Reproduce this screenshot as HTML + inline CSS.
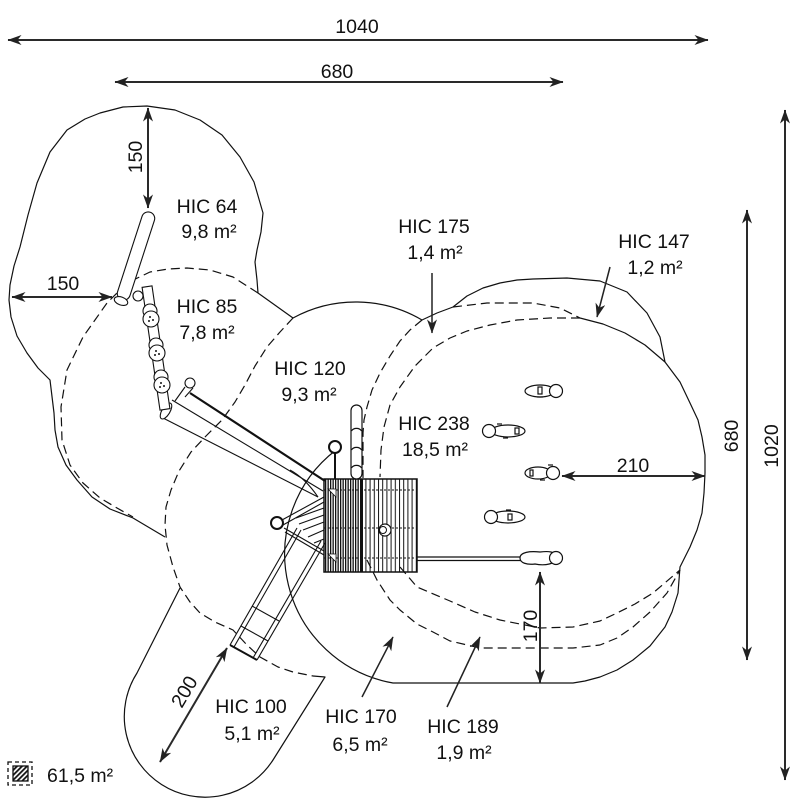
<!DOCTYPE html>
<html><head><meta charset="utf-8"><style>
html,body{margin:0;padding:0;background:#fff;}
svg{display:block;}
text{font-family:"Liberation Sans",sans-serif;font-size:19.5px;fill:#111;}
</style></head><body>
<svg width="800" height="800" viewBox="0 0 800 800" xmlns="http://www.w3.org/2000/svg">
<defs>
<marker id="ah" viewBox="0 0 14 10" refX="13.5" refY="5" markerWidth="14" markerHeight="10" markerUnits="userSpaceOnUse" orient="auto-start-reverse"><path d="M0,0 L14,5 L0,10 L4,5 z" fill="#222"/></marker>
<pattern id="pL" width="2.5" height="10" patternUnits="userSpaceOnUse"><rect x="0" y="0" width="1.3" height="10" fill="#111"/></pattern>
<pattern id="pR" width="4.2" height="10" patternUnits="userSpaceOnUse"><rect x="0" y="0" width="1" height="10" fill="#111"/></pattern>
<pattern id="hat" width="3.5" height="3.5" patternUnits="userSpaceOnUse" patternTransform="rotate(45)"><rect x="0" y="0" width="1.8" height="3.5" fill="#111"/></pattern>
</defs>
<rect width="800" height="800" fill="#fff"/>

<!-- solid outlines -->
<g fill="none" stroke="#111" stroke-width="1.2" stroke-linejoin="round">
<path d="M165,537 L133,518 L110,509 L92,497 L77,480 L66,465 L58,447 L55,430 L54,413 L50,380 L38,368 L27,353 L17,336 L11,317 L9,300 L10,285 L14,266 L20,247 L28,215 L37,183 L50,152 L67,130 L85,119 L100,113 L123,107 L147,106 L175,110 L200,120 L222,135 L240,157 L254,182 L263,213 L261,232 L257,250 L255,262 L257,280 L258,293 L293,318 A131,131 0 0 1 422,320 L437,313 L453,307 L467,296 L483,288 L500,283 L517,280 L533,279 L567,278 L600,281 L627,292 L647,313 L660,337 L665,362"/>
<path d="M580,318 L603,324 L625,333 L645,345 L665,362 L680,382 L690,403 L698,420 L702,437 L705,455 L705,473 L704,493 L702,513 L697,530 L690,547 L680,567 L678,593 L672,612 L665,627 L650,646 L633,660 L617,670 L600,677 L585,681 L573,683 L393,683 A131,131 0 0 1 336,450"/>
<path d="M180,588 L137,673 A80,80 0 0 0 273,760 L325,677 L313,676"/>
</g>

<!-- dashed outlines -->
<g fill="none" stroke="#111" stroke-width="1.2" stroke-dasharray="9 5" stroke-linejoin="round">
<path d="M258,293 L233,277 L210,270 L187,268 L168,269 L150,272 L127,283 L107,303 L83,337 L67,370 L61,407 L62,440 L70,465 L83,483 L100,498 L117,508 L133,517"/>
<path d="M293,318 L280,332 L267,347 L255,366 L245,385 L235,402 L222,420 L206,436 L191,452 L179,471 L171,490 L166,507 L165,525 L167,545 L173,567 L180,587 L190,602 L200,613 L215,622 L233,630 L247,645 L260,657 L278,667 L293,672 L313,676"/>
<path d="M422,320 L410,330 L400,341 L390,356 L380,373 L372,390 L367,407 L364,420 L363,433 L363,455 L363,478"/>
<path d="M580,318 L550,318 L517,320 L490,325 L467,331 L450,338 L433,348 L415,366 L400,387 L390,405 L384,427 L381,450 L380,477"/>
<path d="M453,307 L487,303 L533,303 L560,308 L580,318"/>
<path d="M400,567 L417,587 L450,601 L475,612 L500,620 L540,628 L573,627 L600,621 L617,613 L635,604 L653,593 L680,570"/>
<path d="M367,560 L377,580 L390,600 L400,610 L417,624 L433,632 L450,641 L480,648 L520,648 L573,648 L600,645 L617,638 L633,627 L650,612 L667,593 L680,570"/>
</g>

<!-- equipment -->
<g fill="none" stroke="#111" stroke-width="1.1">
<line x1="190" y1="393" x2="325" y2="481" stroke-width="2.2"/>
<line x1="172" y1="400" x2="323" y2="491"/>
<line x1="163" y1="418" x2="318" y2="497"/>
<path d="M290,470 Q305,478 318,497"/>
<ellipse cx="166" cy="411" rx="4" ry="9" transform="rotate(31 166 411)" fill="#fff"/>
<circle cx="190" cy="383" r="5" fill="#fff"/>
<line x1="185" y1="387" x2="175" y2="401"/>
<line x1="193" y1="388" x2="185" y2="397"/>

<rect x="129.5" y="210" width="13" height="92" rx="6.5" transform="rotate(18 136 256)" fill="#fff"/>
<ellipse cx="121" cy="301" rx="7" ry="4" transform="rotate(20 121 301)" fill="#fff"/>
<circle cx="138" cy="296" r="5" fill="#fff"/>
<rect x="151" y="286" width="10" height="124" transform="rotate(-8.3 156 348)" fill="#fff"/>
<circle cx="150" cy="311" r="7" fill="#fff"/>
<circle cx="156" cy="345" r="7" fill="#fff"/>
<circle cx="161" cy="377" r="7" fill="#fff"/>
<circle cx="151" cy="319" r="8" fill="#fff"/>
<circle cx="157" cy="353" r="8" fill="#fff"/>
<circle cx="162" cy="385" r="8" fill="#fff"/>
</g>
<g fill="#111">
<circle cx="150" cy="317" r="1"/><circle cx="153" cy="320" r="1"/><circle cx="149" cy="321" r="1"/>
<circle cx="156" cy="351" r="1"/><circle cx="159" cy="354" r="1"/><circle cx="155" cy="355" r="1"/>
<circle cx="161" cy="383" r="1"/><circle cx="164" cy="386" r="1"/><circle cx="160" cy="387" r="1"/>
</g>

<g fill="none" stroke="#111" stroke-width="1.1">
<line x1="297" y1="528" x2="230" y2="645"/>
<line x1="301" y1="530" x2="234" y2="647"/>
<line x1="325" y1="543" x2="257" y2="660"/>
<line x1="321" y1="541" x2="253" y2="658"/>
<line x1="230" y1="645" x2="257" y2="660" stroke-width="2"/>
<line x1="252" y1="606" x2="279" y2="621"/>
<line x1="241" y1="626" x2="268" y2="641"/>
<line x1="282" y1="520" x2="324" y2="497"/>
<line x1="283" y1="525" x2="324" y2="502"/>
<line x1="284" y1="528" x2="324" y2="551"/>
<line x1="285" y1="532" x2="324" y2="555"/>
<line x1="296" y1="518" x2="324" y2="508"/>
<line x1="299" y1="524" x2="324" y2="515"/>
<line x1="303" y1="530" x2="324" y2="522"/>
<line x1="308" y1="537" x2="324" y2="530"/>
<line x1="314" y1="543" x2="324" y2="539"/>
<circle cx="277" cy="523" r="6" stroke-width="2" fill="#fff"/>
</g>

<!-- platform -->
<rect x="324" y="479" width="38" height="93" fill="url(#pL)"/>
<rect x="362" y="479" width="55" height="93" fill="url(#pR)"/>
<rect x="324" y="479" width="93" height="93" fill="none" stroke="#111" stroke-width="1.5"/>
<line x1="362" y1="479" x2="362" y2="572" stroke="#111" stroke-width="2"/>
<g stroke="#111" stroke-width="1" stroke-dasharray="2 2">
<line x1="324" y1="490" x2="417" y2="490"/>
<line x1="324" y1="528" x2="417" y2="528"/>
<line x1="324" y1="558" x2="417" y2="558"/>
</g>
<path d="M328,489 L336,489 L336,497 z" fill="#fff" stroke="#111" stroke-width="0.8"/>
<path d="M328,554 L336,554 L336,562 z" fill="#fff" stroke="#111" stroke-width="0.8"/>
<circle cx="385" cy="530" r="6" fill="#fff" stroke="#111" stroke-width="1.2"/>
<circle cx="383" cy="530" r="3.5" fill="none" stroke="#111" stroke-width="1"/>

<g fill="none" stroke="#111" stroke-width="1.2">
<rect x="351" y="405" width="11" height="74" rx="5.5" fill="#fff"/>
<path d="M351.5,431 A5.5,4.5 0 0 1 361.5,431 M351.5,450 A5.5,4.5 0 0 1 361.5,450 M351.5,468 A5.5,4.5 0 0 1 361.5,468"/>
<line x1="335" y1="453" x2="335" y2="479" stroke-width="2"/>
<circle cx="335" cy="447" r="6" stroke-width="2" fill="#fff"/>

<line x1="417" y1="557" x2="522" y2="557"/>
<line x1="417" y1="560.5" x2="522" y2="560.5"/>
<ellipse cx="540" cy="391" rx="15" ry="6" fill="#fff"/>
<circle cx="556" cy="391" r="6.5" fill="#fff"/>
<rect x="538" y="387" width="4" height="7"/>
<line x1="537" y1="397" x2="543" y2="397"/>
<ellipse cx="508" cy="431" rx="17" ry="6" fill="#fff"/>
<circle cx="489" cy="431" r="6.5" fill="#fff"/>
<rect x="515" y="428" width="4" height="6"/>
<line x1="497" y1="424" x2="502" y2="424"/><line x1="503" y1="438" x2="508" y2="438"/>
<ellipse cx="538" cy="473" rx="13" ry="6" fill="#fff"/>
<circle cx="553" cy="473" r="6.5" fill="#fff"/>
<rect x="530" y="470" width="3" height="6"/>
<line x1="548" y1="465" x2="553" y2="465"/><line x1="540" y1="480" x2="545" y2="480"/>
<ellipse cx="508" cy="517" rx="17" ry="6" fill="#fff"/>
<circle cx="491" cy="517" r="6.5" fill="#fff"/>
<rect x="508" y="514" width="4" height="6"/>
<line x1="506" y1="510" x2="511" y2="510"/>
<path d="M520,558 C520,552 530,551 540,552 C548,551 556,551 556,558 C556,564 545,566 535,564 C527,565 520,563 520,558 z" fill="#fff"/>
<circle cx="556" cy="558" r="6.5" fill="#fff"/>
</g>

<!-- dimension lines -->
<g stroke="#2a2a2a" stroke-width="2" fill="none" marker-start="url(#ah)" marker-end="url(#ah)">
<line x1="8" y1="40" x2="708" y2="40"/>
<line x1="115" y1="82" x2="563" y2="82"/>
<line x1="785" y1="110" x2="785" y2="780"/>
<line x1="747" y1="210" x2="747" y2="660"/>
<line x1="148" y1="108" x2="148" y2="208"/>
<line x1="12" y1="297" x2="112" y2="297"/>
<line x1="562" y1="476" x2="705" y2="476"/>
<line x1="540" y1="572" x2="540" y2="683"/>
<line x1="227" y1="648" x2="160" y2="762"/>
</g>
<g stroke="#222" stroke-width="1.5" fill="none" marker-end="url(#ah)">
<line x1="432" y1="273" x2="432" y2="333"/>
<line x1="610" y1="267" x2="597" y2="317"/>
<line x1="362" y1="697" x2="393" y2="637"/>
<line x1="447" y1="707" x2="480" y2="637"/>
</g>

<text x="357" y="33" text-anchor="middle">1040</text>
<text x="337" y="78" text-anchor="middle">680</text>
<text transform="translate(142 157) rotate(-90)" text-anchor="middle">150</text>
<text x="63" y="290" text-anchor="middle">150</text>
<text x="633" y="472" text-anchor="middle">210</text>
<text transform="translate(537 626) rotate(-90)" text-anchor="middle">170</text>
<text transform="translate(738 436) rotate(-90)" text-anchor="middle">680</text>
<text transform="translate(778 446) rotate(-90)" text-anchor="middle">1020</text>
<text transform="translate(190 695) rotate(-59.5)" text-anchor="middle">200</text>

<text x="207" y="213" text-anchor="middle">HIC 64</text>
<text x="209" y="238" text-anchor="middle">9,8 m²</text>
<text x="207" y="313" text-anchor="middle">HIC 85</text>
<text x="207" y="339" text-anchor="middle">7,8 m²</text>
<text x="310" y="375" text-anchor="middle">HIC 120</text>
<text x="309" y="401" text-anchor="middle">9,3 m²</text>
<text x="434" y="233" text-anchor="middle">HIC 175</text>
<text x="435" y="259" text-anchor="middle">1,4 m²</text>
<text x="654" y="248" text-anchor="middle">HIC 147</text>
<text x="655" y="274" text-anchor="middle">1,2 m²</text>
<text x="434" y="430" text-anchor="middle">HIC 238</text>
<text x="435" y="456" text-anchor="middle">18,5 m²</text>
<text x="251" y="713" text-anchor="middle">HIC 100</text>
<text x="252" y="740" text-anchor="middle">5,1 m²</text>
<text x="361" y="723" text-anchor="middle">HIC 170</text>
<text x="360" y="751" text-anchor="middle">6,5 m²</text>
<text x="463" y="733" text-anchor="middle">HIC 189</text>
<text x="464" y="759" text-anchor="middle">1,9 m²</text>

<rect x="8" y="762" width="24" height="23" fill="none" stroke="#111" stroke-width="1.3" stroke-dasharray="4 3"/>
<rect x="13" y="766" width="15" height="15" fill="url(#hat)" stroke="#111" stroke-width="1.3"/>
<text x="47" y="782">61,5 m²</text>
</svg>
</body></html>
